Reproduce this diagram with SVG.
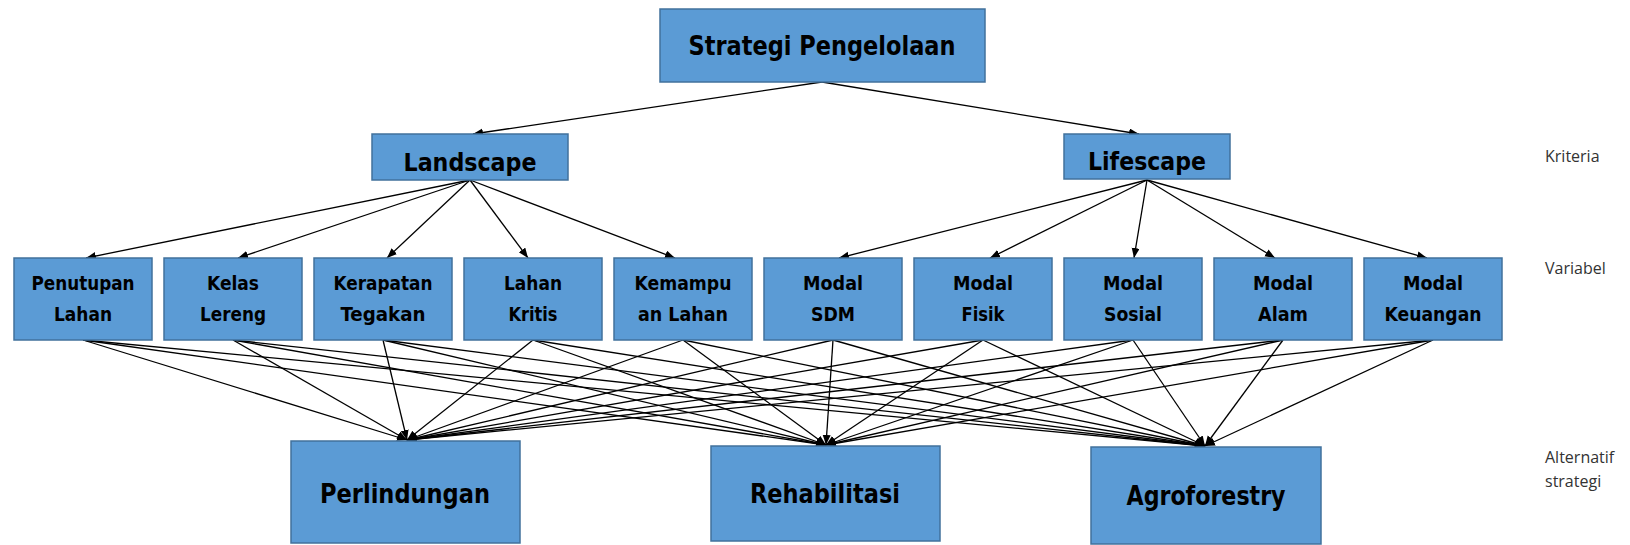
<svg xmlns="http://www.w3.org/2000/svg" width="1630" height="545" viewBox="0 0 1630 545">
<style>
.box{fill:#5B9BD5;stroke:#41719C;stroke-width:1.5}
.t{font-family:"Liberation Sans Narrow","DejaVu Sans Condensed","Liberation Sans",sans-serif;font-weight:bold;fill:#000;text-anchor:middle}
.big{font-size:26px}
.mid{font-size:24px}
.var{font-size:19px}
.alt{font-size:27px}
.side{font-family:"Open Sans","DejaVu Sans",sans-serif;font-size:16px;fill:#333}
.c line{stroke:#000;stroke-width:1.3;marker-end:url(#ah)}
</style>
<defs>
<marker id="ah" markerUnits="userSpaceOnUse" markerWidth="11" markerHeight="9" refX="10" refY="4" orient="auto">
<path d="M0,0 L10,4 L0,8 z" fill="#000"/>
</marker>
</defs>
<g class="c" id="connectors">
<line x1="822" y1="82" x2="473" y2="134"/>
<line x1="822" y1="82" x2="1139" y2="134"/>
<line x1="470" y1="180" x2="86" y2="258"/>
<line x1="470" y1="180" x2="238" y2="258"/>
<line x1="470" y1="180" x2="387" y2="258"/>
<line x1="470" y1="180" x2="528" y2="258"/>
<line x1="470" y1="180" x2="675" y2="258"/>
<line x1="1147" y1="180" x2="839" y2="258"/>
<line x1="1147" y1="180" x2="990" y2="258"/>
<line x1="1147" y1="180" x2="1134" y2="258"/>
<line x1="1147" y1="180" x2="1275" y2="258"/>
<line x1="1147" y1="180" x2="1427" y2="258"/>
<line x1="83" y1="340" x2="407" y2="440"/><line x1="83" y1="340" x2="826" y2="445"/><line x1="83" y1="340" x2="1205" y2="446"/>
<line x1="233" y1="340" x2="407" y2="440"/><line x1="233" y1="340" x2="826" y2="445"/><line x1="233" y1="340" x2="1205" y2="446"/>
<line x1="383" y1="340" x2="407" y2="440"/><line x1="383" y1="340" x2="826" y2="445"/><line x1="383" y1="340" x2="1205" y2="446"/>
<line x1="533" y1="340" x2="407" y2="440"/><line x1="533" y1="340" x2="826" y2="445"/><line x1="533" y1="340" x2="1205" y2="446"/>
<line x1="683" y1="340" x2="407" y2="440"/><line x1="683" y1="340" x2="826" y2="445"/><line x1="683" y1="340" x2="1205" y2="446"/>
<line x1="833" y1="340" x2="407" y2="440"/><line x1="833" y1="340" x2="826" y2="445"/><line x1="833" y1="340" x2="1205" y2="446"/>
<line x1="983" y1="340" x2="407" y2="440"/><line x1="983" y1="340" x2="826" y2="445"/><line x1="983" y1="340" x2="1205" y2="446"/>
<line x1="1133" y1="340" x2="407" y2="440"/><line x1="1133" y1="340" x2="826" y2="445"/><line x1="1133" y1="340" x2="1205" y2="446"/>
<line x1="1283" y1="340" x2="407" y2="440"/><line x1="1283" y1="340" x2="826" y2="445"/><line x1="1283" y1="340" x2="1205" y2="446"/>
<line x1="1433" y1="340" x2="407" y2="440"/><line x1="1433" y1="340" x2="826" y2="445"/><line x1="1433" y1="340" x2="1205" y2="446"/>
</g>
<g id="strategi"><rect class="box" x="660" y="9" width="325" height="73"/><text class="t big" x="822" y="55" textLength="267" lengthAdjust="spacingAndGlyphs">Strategi Pengelolaan</text></g>
<g id="landscape"><rect class="box" x="372" y="134" width="196" height="46"/><text class="t mid" x="470" y="171" textLength="133" lengthAdjust="spacingAndGlyphs">Landscape</text></g>
<g id="lifescape"><rect class="box" x="1064" y="134" width="166" height="45"/><text class="t mid" x="1147" y="170" textLength="118" lengthAdjust="spacingAndGlyphs">Lifescape</text></g>
<g id="penutupan"><rect class="box" x="14" y="258" width="138" height="82"/><text class="t var" x="83" y="290" textLength="103" lengthAdjust="spacingAndGlyphs">Penutupan</text><text class="t var" x="83" y="321" textLength="58" lengthAdjust="spacingAndGlyphs">Lahan</text></g>
<g id="kelas"><rect class="box" x="164" y="258" width="138" height="82"/><text class="t var" x="233" y="290" textLength="52" lengthAdjust="spacingAndGlyphs">Kelas</text><text class="t var" x="233" y="321" textLength="66" lengthAdjust="spacingAndGlyphs">Lereng</text></g>
<g id="kerapatan"><rect class="box" x="314" y="258" width="138" height="82"/><text class="t var" x="383" y="290" textLength="99" lengthAdjust="spacingAndGlyphs">Kerapatan</text><text class="t var" x="383" y="321" textLength="85" lengthAdjust="spacingAndGlyphs">Tegakan</text></g>
<g id="lahankritis"><rect class="box" x="464" y="258" width="138" height="82"/><text class="t var" x="533" y="290" textLength="58" lengthAdjust="spacingAndGlyphs">Lahan</text><text class="t var" x="533" y="321" textLength="49" lengthAdjust="spacingAndGlyphs">Kritis</text></g>
<g id="kemampuan"><rect class="box" x="614" y="258" width="138" height="82"/><text class="t var" x="683" y="290" textLength="97" lengthAdjust="spacingAndGlyphs">Kemampu</text><text class="t var" x="683" y="321" textLength="90" lengthAdjust="spacingAndGlyphs">an Lahan</text></g>
<g id="sdm"><rect class="box" x="764" y="258" width="138" height="82"/><text class="t var" x="833" y="290" textLength="60" lengthAdjust="spacingAndGlyphs">Modal</text><text class="t var" x="833" y="321" textLength="44" lengthAdjust="spacingAndGlyphs">SDM</text></g>
<g id="fisik"><rect class="box" x="914" y="258" width="138" height="82"/><text class="t var" x="983" y="290" textLength="60" lengthAdjust="spacingAndGlyphs">Modal</text><text class="t var" x="983" y="321" textLength="43" lengthAdjust="spacingAndGlyphs">Fisik</text></g>
<g id="sosial"><rect class="box" x="1064" y="258" width="138" height="82"/><text class="t var" x="1133" y="290" textLength="60" lengthAdjust="spacingAndGlyphs">Modal</text><text class="t var" x="1133" y="321" textLength="58" lengthAdjust="spacingAndGlyphs">Sosial</text></g>
<g id="alam"><rect class="box" x="1214" y="258" width="138" height="82"/><text class="t var" x="1283" y="290" textLength="60" lengthAdjust="spacingAndGlyphs">Modal</text><text class="t var" x="1283" y="321" textLength="50" lengthAdjust="spacingAndGlyphs">Alam</text></g>
<g id="keuangan"><rect class="box" x="1364" y="258" width="138" height="82"/><text class="t var" x="1433" y="290" textLength="60" lengthAdjust="spacingAndGlyphs">Modal</text><text class="t var" x="1433" y="321" textLength="97" lengthAdjust="spacingAndGlyphs">Keuangan</text></g>
<g id="perlindungan"><rect class="box" x="291" y="441" width="229" height="102"/><text class="t alt" x="405" y="503" textLength="170" lengthAdjust="spacingAndGlyphs">Perlindungan</text></g>
<g id="rehabilitasi"><rect class="box" x="711" y="446" width="229" height="95"/><text class="t alt" x="825" y="503" textLength="150" lengthAdjust="spacingAndGlyphs">Rehabilitasi</text></g>
<g id="agroforestry"><rect class="box" x="1091" y="447" width="230" height="97"/><text class="t alt" x="1206" y="505" textLength="159" lengthAdjust="spacingAndGlyphs">Agroforestry</text></g>
<g id="labels">
<text class="side" x="1545" y="162">Kriteria</text>
<text class="side" x="1545" y="274">Variabel</text>
<text class="side" x="1545" y="463">Alternatif</text>
<text class="side" x="1545" y="487">strategi</text>
</g>
</svg>
